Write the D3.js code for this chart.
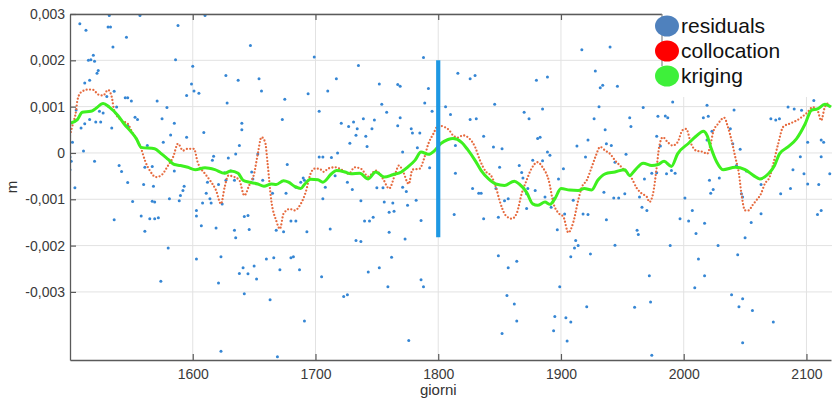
<!DOCTYPE html>
<meta charset="utf-8">
<script src="https://d3js.org/d3.v7.min.js"></script>
<style>
  body { margin: 0; background: #fff; }
  text { font-family: "Liberation Sans", Arial, sans-serif; }
</style>
<div id="chart"></div>
<script>

// axis ticks (values in mm, labels as printed in metres)
var xTicks = [1600, 1700, 1800, 1900, 2000, 2100];
var yTicks = [3, 2, 1, 0, -1, -2, -3];
var yTickLabels = ["0,003", "0,002", "0,001", "0", "-0,001", "-0,002", "-0,003"];
var seriesNames = ["residuals", "collocation", "kriging"];

// vertical marker at day 1800 (mm)
var markerDay = 1800;
var markerRange = [2.0, -1.82];

// kriging curve [day, mm]
var kriging = [[1500,0.64],[1506,0.72],[1510,0.88],[1517,0.90],[1521,0.96],[1527,1.07],[1532,0.99],[1539,0.81],
  [1544,0.63],[1550,0.45],[1554,0.31],[1558,0.12],[1569,0.09],[1574,-0.01],[1580,-0.14],[1585,-0.25],[1590,-0.27],
  [1596,-0.31],[1602,-0.36],[1610,-0.32],[1618,-0.36],[1626,-0.44],[1631,-0.39],[1637,-0.44],[1641,-0.59],[1646,-0.63],
  [1653,-0.67],[1658,-0.72],[1664,-0.67],[1668,-0.68],[1674,-0.60],[1678,-0.63],[1683,-0.72],[1688,-0.77],[1691,-0.68],
  [1696,-0.57],[1702,-0.58],[1706,-0.63],[1713,-0.45],[1717,-0.38],[1724,-0.41],[1729,-0.45],[1736,-0.44],[1743,-0.56],
  [1749,-0.41],[1756,-0.52],[1763,-0.47],[1770,-0.41],[1775,-0.31],[1781,-0.16],[1786,0.02],[1792,-0.03],[1797,0.05],
  [1802,0.20],[1808,0.29],[1812,0.31],[1819,0.23],[1824,0.07],[1830,-0.16],[1835,-0.38],[1841,-0.56],[1847,-0.67],
  [1854,-0.70],[1862,-0.61],[1866,-0.67],[1872,-0.85],[1877,-1.10],[1881,-1.13],[1887,-1.06],[1891,-1.11],[1895,-0.99],
  [1900,-0.77],[1907,-0.80],[1914,-0.81],[1919,-0.77],[1925,-0.80],[1930,-0.59],[1936,-0.45],[1944,-0.41],[1952,-0.36],
  [1956,-0.49],[1960,-0.38],[1967,-0.22],[1974,-0.27],[1979,-0.25],[1984,-0.18],[1990,-0.29],[1995,-0.02],[2004,0.21],
  [2010,0.36],[2016,0.47],[2019,0.38],[2022,0.13],[2027,-0.20],[2032,-0.36],[2042,-0.31],[2050,-0.36],[2057,-0.49],
  [2062,-0.56],[2069,-0.45],[2074,-0.27],[2078,-0.02],[2085,0.13],[2092,0.31],[2099,0.63],[2104,0.92],[2109,0.95],
  [2115,1.05],[2120,0.99]];

// collocation curve [day, mm]
var collocation = [[1500,0.38],[1502,0.59],[1505,0.92],[1506,1.13],[1509,1.31],[1515,1.37],[1519,1.36],[1523,1.26],
  [1527,1.24],[1531,1.36],[1534,1.21],[1536,0.92],[1542,0.70],[1547,0.63],[1551,0.43],[1555,0.27],[1558,0.09],
  [1561,-0.16],[1565,-0.38],[1570,-0.52],[1574,-0.49],[1580,-0.27],[1584,-0.09],[1588,0.20],[1592,0.05],[1596,0.09],
  [1601,0.09],[1604,-0.20],[1610,-0.45],[1614,-0.59],[1619,-0.81],[1623,-1.10],[1626,-0.74],[1629,-0.49],[1633,-0.51],
  [1638,-0.59],[1642,-0.92],[1646,-0.70],[1650,-0.45],[1653,-0.02],[1656,0.34],[1659,0.23],[1661,-0.23],[1664,-1.03],
  [1668,-1.46],[1671,-1.64],[1674,-1.31],[1679,-1.21],[1683,-1.24],[1688,-1.10],[1692,-0.85],[1696,-0.45],[1699,-0.34],
  [1703,-0.34],[1707,-0.41],[1710,-0.34],[1716,-0.31],[1721,-0.36],[1727,-0.45],[1732,-0.31],[1737,-0.34],[1743,-0.51],
  [1749,-0.38],[1755,-0.56],[1760,-0.77],[1765,-0.45],[1768,-0.27],[1771,-0.38],[1776,-0.67],[1779,-0.36],[1785,-0.34],
  [1788,-0.16],[1792,0.20],[1796,0.41],[1800,0.59],[1805,0.56],[1809,0.49],[1812,0.38],[1816,0.33],[1820,0.38],
  [1825,0.32],[1830,0.13],[1834,-0.16],[1839,-0.41],[1843,-0.49],[1847,-0.74],[1850,-1.03],[1855,-1.35],[1860,-1.42],
  [1864,-1.30],[1868,-0.88],[1872,-0.59],[1876,-0.34],[1881,-0.20],[1885,-0.31],[1890,-0.59],[1894,-1.10],[1898,-1.30],
  [1902,-1.38],[1906,-1.72],[1910,-1.50],[1914,-1.03],[1917,-0.74],[1921,-0.59],[1925,-0.31],[1928,-0.09],[1932,0.13],
  [1936,0.05],[1940,-0.02],[1944,-0.16],[1948,-0.27],[1952,-0.38],[1957,-0.52],[1962,-0.77],[1966,-0.88],[1970,-0.95],
  [1972,-1.06],[1975,-0.88],[1978,-0.31],[1980,0.13],[1983,0.34],[1987,0.23],[1991,0.16],[1995,0.23],[1999,0.49],
  [2002,0.52],[2006,0.20],[2010,0.05],[2016,0.02],[2019,-0.02],[2022,0.20],[2024,0.45],[2028,0.63],[2033,0.76],
  [2036,0.56],[2039,0.27],[2042,-0.09],[2045,-0.45],[2047,-0.88],[2050,-1.24],[2053,-1.24],[2056,-1.13],[2059,-1.03],
  [2063,-0.88],[2066,-0.67],[2070,-0.52],[2073,-0.23],[2077,0.20],[2081,0.56],[2087,0.64],[2092,0.70],[2096,0.77],
  [2101,0.88],[2105,0.99],[2109,0.92],[2112,0.70],[2115,0.99],[2119,1.10]];

// residuals [day, mm]
var residuals = [
  [1532,2.97],[1557,2.97],[1508,2.79],[1513,2.65],[1531,2.72],[1533,2.72],[1546,2.50],[1588,2.75],[1535,2.29],
  [1519,2.11],[1517,2.01],[1515,2.00],[1520,1.98],[1586,2.01],[1523,1.78],[1522,1.72],[1516,1.57],[1512,1.51],
  [1600,1.87],[1599,1.49],[1601,1.34],[1595,1.24],[1536,1.33],[1530,1.22],[1545,1.19],[1547,1.19],[1550,1.12],
  [1571,1.12],[1538,0.99],[1579,0.98],[1505,0.93],[1524,0.90],[1527,0.86],[1516,0.72],[1521,0.67],[1525,0.67],
  [1553,0.77],[1555,0.72],[1575,0.74],[1512,0.63],[1509,0.54],[1534,0.54],[1585,0.64],[1547,0.59],[1582,0.39],
  [1595,0.34],[1576,0.23],[1563,0.16],[1502,0.23],[1500,-0.09],[1501,-0.18],[1511,0.04],[1520,-0.18],[1500,-0.36],
  [1540,-0.27],[1542,-0.40],[1547,-0.64],[1561,-0.31],[1567,-0.29],[1585,-0.39],[1560,-0.68],[1568,-0.72],[1504,-0.75],
  [1593,-0.72],[1592,-0.81],[1590,-0.92],[1589,-1.03],[1581,-0.99],[1551,-1.05],[1567,-1.04],[1569,-1.06],[1603,-1.24],
  [1603,-1.36],[1536,-1.44],[1558,-1.36],[1565,-1.42],[1569,-1.42],[1572,-1.40],[1561,-1.69],[1580,-2.05],[1603,-2.29],
  [1574,-2.77],
  [1610,2.97],[1647,2.32],[1699,2.07],[1627,1.67],[1637,1.57],[1654,1.60],[1656,1.34],[1605,1.29],[1628,1.08],
  [1675,1.16],[1694,1.28],[1703,0.90],[1673,0.72],[1640,0.64],[1640,0.50],[1609,0.44],[1638,0.16],[1617,-0.07],
  [1616,-0.16],[1629,-0.11],[1635,-0.02],[1653,-0.02],[1677,-0.25],[1703,-0.09],[1631,-0.39],[1648,-0.41],[1626,-0.43],
  [1612,-0.63],[1621,-0.68],[1627,-0.59],[1634,-0.59],[1657,-0.59],[1649,-0.56],[1690,-0.54],[1691,-0.59],[1688,-0.63],
  [1684,-0.74],[1676,-0.87],[1665,-0.87],[1611,-0.87],[1624,-1.10],[1608,-1.08],[1614,-0.99],[1615,-1.08],[1607,-1.57],
  [1619,-1.62],[1642,-1.37],[1645,-1.35],[1634,-1.67],[1635,-1.83],[1646,-1.65],[1668,-1.67],[1674,-1.70],[1680,-1.47],
  [1684,-1.47],[1693,-1.70],[1623,-2.24],[1660,-2.29],[1666,-2.26],[1680,-2.26],[1682,-2.24],[1641,-2.48],[1650,-2.44],
  [1638,-2.60],[1645,-2.61],[1671,-2.52],[1687,-2.52],[1652,-2.72],[1621,-2.81],[1642,-3.04],[1663,-3.17],[1691,-3.63],
  [1623,-4.28],[1669,-4.40],
  [1788,2.06],[1735,1.89],[1717,1.60],[1710,1.34],[1752,1.49],[1767,1.48],[1769,1.44],[1792,1.39],[1754,1.05],
  [1758,0.88],[1789,1.08],[1795,0.90],[1806,1.00],[1810,0.83],[1721,0.64],[1731,0.67],[1739,0.74],[1748,0.71],
  [1769,0.76],[1727,0.57],[1734,0.52],[1746,0.52],[1767,0.59],[1778,0.52],[1733,0.38],[1741,0.36],[1779,0.43],
  [1785,0.43],[1728,0.21],[1742,0.14],[1783,0.11],[1706,-0.09],[1713,-0.10],[1718,0.00],[1771,0.02],[1793,-0.32],
  [1716,-0.49],[1726,-0.63],[1708,-0.74],[1730,-0.79],[1750,-0.75],[1755,-0.75],[1771,-0.74],[1774,-0.83],[1706,-0.99],
  [1737,-1.03],[1756,-1.06],[1763,-1.08],[1782,-1.02],[1775,-1.13],[1764,-1.26],[1760,-1.28],[1747,-1.39],[1744,-1.47],
  [1740,-1.47],[1786,-1.46],[1712,-1.64],[1760,-1.71],[1773,-1.86],[1733,-1.89],[1737,-1.91],[1762,-2.25],[1752,-2.48],
  [1743,-2.57],[1705,-2.67],[1759,-2.89],[1786,-2.74],[1788,-2.89],[1723,-3.10],[1726,-3.06],[1776,-4.05],
  [1816,1.72],[1826,1.60],[1830,1.67],[1880,1.57],[1889,1.64],[1846,1.05],[1870,0.88],[1885,0.95],[1826,0.72],
  [1831,0.74],[1874,0.74],[1881,0.31],[1883,0.34],[1837,0.36],[1814,0.16],[1845,0.13],[1852,0.09],[1889,0.02],
  [1891,-0.05],[1877,-0.16],[1885,-0.17],[1866,-0.27],[1850,-0.31],[1814,-0.44],[1868,-0.42],[1902,-0.34],[1869,-0.54],
  [1898,-0.56],[1828,-0.77],[1833,-0.87],[1835,-0.87],[1847,-0.77],[1854,-1.03],[1857,-0.99],[1872,-0.88],[1873,-0.77],
  [1879,-0.81],[1887,-0.95],[1894,-0.99],[1910,-1.02],[1903,-1.32],[1813,-1.33],[1837,-1.42],[1849,-1.39],[1872,-1.20],
  [1892,-1.17],[1897,-1.66],[1912,-1.89],[1911,-2.05],[1908,-2.24],[1849,-2.22],[1864,-2.34],[1857,-2.48],[1899,-2.89],
  [1856,-3.08],[1862,-3.26],[1864,-3.63],[1852,-3.90],[1895,-3.53],[1904,-3.56],[1908,-3.65],[1894,-3.84],[1905,-4.06],
  [1917,2.23],[1940,2.29],[1928,1.77],[1932,1.41],[1934,1.46],[1946,1.44],[1931,1.00],[1991,1.10],[1967,0.98],
  [1927,0.74],[1956,0.76],[1979,0.79],[1985,0.80],[1987,0.76],[1957,0.57],[1936,0.50],[1922,0.28],[1978,0.36],
  [1937,0.20],[1941,0.16],[1913,0.15],[1981,0.15],[1953,-0.03],[1920,-0.09],[1944,-0.20],[1990,-0.38],[1974,-0.44],
  [1978,-0.43],[1986,-0.45],[1993,-0.44],[1968,-0.56],[1935,-0.85],[1943,-0.97],[1947,-0.97],[1952,-0.88],[2001,-0.97],
  [1964,-0.95],[1966,-1.17],[1970,-1.24],[2007,-1.24],[1918,-1.32],[1922,-1.33],[1937,-1.44],[1997,-1.42],[2004,-1.47],
  [1962,-1.67],[1963,-1.76],[2010,-1.74],[1914,-2.00],[1944,-1.99],[1989,-2.00],[1924,-2.18],[2012,-2.29],[1972,-2.65],
  [2017,-2.65],[2009,-2.91],[1921,-3.32],[1960,-3.33],[1973,-3.22],[1974,-4.37],
  [2019,1.03],[2041,0.93],[2016,0.76],[2020,0.79],[2071,0.74],[2075,0.71],[2078,0.74],[2085,0.99],[2090,0.95],
  [2096,0.92],[2106,1.13],[2019,0.28],[2023,0.47],[2038,0.52],[2040,0.20],[2046,0.08],[2101,0.23],[2112,0.28],
  [2114,0.23],[2095,-0.08],[2112,-0.08],[2043,-0.27],[2089,-0.36],[2098,-0.45],[2119,-0.45],[2029,-0.54],[2021,-0.59],
  [2051,-0.39],[2063,-0.68],[2101,-0.67],[2110,-0.68],[2024,-0.79],[2022,-0.87],[2079,-0.88],[2087,-0.77],[2047,-0.88],
  [2048,-0.95],[2112,-1.24],[2109,-1.33],[2063,-1.31],[2017,-1.52],[2055,-1.50],[2050,-1.83],[2028,-2.00],[2044,-2.20],
  [2039,-3.06],[2048,-3.15],[2045,-3.32],[2056,-3.40],[2073,-3.65],[2048,-4.10]
];

var width = 832, height = 402;
var left = 70, top_ = 14, right = 832, bottom = 360;

var svg = d3.select("#chart").append("svg")
  .attr("width", width)
  .attr("height", height);

var x = d3.scaleLinear().domain([1500, 2120]).range([left, 831]);
var y = d3.scaleLinear().domain([-4.47, 3.0]).range([bottom, top_]);

svg.append("clipPath").attr("id", "plotclip")
  .append("rect")
  .attr("x", left).attr("y", top_)
  .attr("width", right - left).attr("height", bottom - top_);

// grid
var grid = svg.append("g").attr("stroke", "#e2e2e2").attr("stroke-width", 1);
grid.selectAll(".gx").data(xTicks).enter().append("line")
  .attr("x1", d => x(d)).attr("x2", d => x(d))
  .attr("y1", top_).attr("y2", bottom);
grid.selectAll(".gy").data(yTicks).enter().append("line")
  .attr("x1", left).attr("x2", right)
  .attr("y1", d => y(d)).attr("y2", d => y(d));

var plot = svg.append("g").attr("clip-path", "url(#plotclip)");

// residual points
plot.selectAll(".res").data(residuals).enter().append("circle")
  .attr("cx", d => x(d[0]))
  .attr("cy", d => y(d[1]))
  .attr("r", 1.5)
  .attr("fill", "#3586d4");

var line = d3.line()
  .x(d => x(d[0]))
  .y(d => y(d[1]))
  .curve(d3.curveMonotoneX);

// collocation (dotted)
plot.append("path")
  .datum(collocation)
  .attr("d", line)
  .attr("fill", "none")
  .attr("stroke", "#e66a3e")
  .attr("stroke-width", 2.3)
  .attr("stroke-linecap", "round")
  .attr("stroke-dasharray", "0 3.4");

// kriging
plot.append("path")
  .datum(kriging)
  .attr("d", line)
  .attr("fill", "none")
  .attr("stroke", "#3ef01f")
  .attr("stroke-width", 3);

// marker bar
plot.append("line")
  .attr("x1", x(markerDay)).attr("x2", x(markerDay))
  .attr("y1", y(markerRange[0])).attr("y2", y(markerRange[1]))
  .attr("stroke", "#1e98e3")
  .attr("stroke-width", 4.2);

// axes, ticks pointing inward
var axisColor = "#5a5a5a";
var yAxis = svg.append("g")
  .attr("transform", "translate(" + left + ",0)")
  .call(d3.axisLeft(y).tickValues(yTicks).tickSize(-6).tickSizeOuter(0).tickPadding(5)
    .tickFormat((d, i) => yTickLabels[i]));
var xAxis = svg.append("g")
  .attr("transform", "translate(0," + bottom + ")")
  .call(d3.axisBottom(x).tickValues(xTicks).tickSize(-6).tickSizeOuter(0).tickPadding(9)
    .tickFormat(d3.format("d")));
var topAxis = svg.append("g")
  .attr("transform", "translate(0," + top_ + ")")
  .call(d3.axisTop(x).tickValues(xTicks).tickSize(-6).tickSizeOuter(0).tickFormat(""));

[yAxis, xAxis, topAxis].forEach(function (g) {
  g.select(".domain").attr("stroke", axisColor).attr("stroke-width", 1.3);
  g.selectAll(".tick line").attr("stroke", axisColor).attr("stroke-width", 1.2);
  g.selectAll(".tick text").attr("fill", "#3a3a3a").style("font-size", "14px")
    .style("font-family", "'Liberation Sans', Arial, sans-serif");
});

// axis titles
svg.append("text")
  .attr("x", x(1800)).attr("y", 395)
  .attr("text-anchor", "middle")
  .style("font-size", "15px")
  .attr("fill", "#333")
  .text("giorni");
svg.append("text")
  .attr("transform", "translate(17," + (top_ + bottom) / 2 + ") rotate(-90)")
  .attr("text-anchor", "middle")
  .style("font-size", "15px")
  .attr("fill", "#333")
  .text("m");

// legend
var legendColors = ["#4f81bd", "#ff0000", "#3ef03a"];
svg.append("rect")
  .attr("x", 662).attr("y", 0)
  .attr("width", 170).attr("height", 97)
  .attr("fill", "#fff");
svg.append("line")
  .attr("x1", 662).attr("x2", 662)
  .attr("y1", top_).attr("y2", 66)
  .attr("stroke", "#888").attr("stroke-width", 1.2);
var leg = svg.selectAll(".leg").data(seriesNames).enter().append("g")
  .attr("transform", (d, i) => "translate(667," + (26 + i * 25) + ")");
leg.append("ellipse")
  .attr("rx", 12).attr("ry", 10.5)
  .attr("fill", (d, i) => legendColors[i]);
leg.append("text")
  .attr("x", 14).attr("y", 7)
  .style("font-size", "21px")
  .attr("fill", "#111")
  .text(d => d);

</script>
